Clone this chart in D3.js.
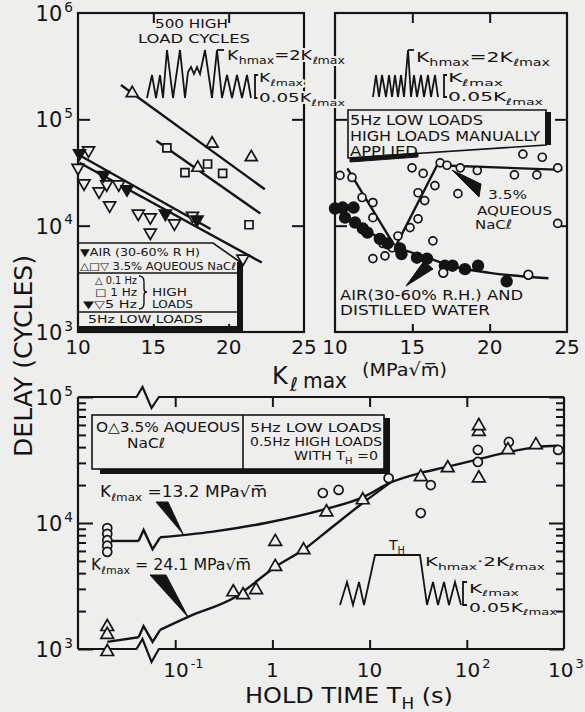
<!DOCTYPE html>
<html>
<head>
<meta charset="utf-8">
<script src="https://cdn.jsdelivr.net/npm/d3@7/dist/d3.min.js"></script>
<style>
  body { margin: 0; background: #eeeeec; }
  svg { display: block; font-family: "DejaVu Sans", Verdana, sans-serif; }
  .halo { paint-order: stroke; stroke: #eeeeec; stroke-width: 4px; stroke-linejoin: round; }
</style>
</head>
<body>
<svg id="chart" width="585" height="712"></svg>
<script>
const ink = "#141414", paper = "#eeeeec";

// ---------- top left panel: 500 high load cycles (K_lmax, delay) ----------
const tlTri01Hz = [[13.6, 1.76e5], [17.95, 3.5e4], [18.9, 5.9e4], [21.5, 4.4e4]];
const tlSq1Hz = [[15.9, 5.4e4], [17.1, 3.16e4], [18.6, 3.8e4], [19.6, 3.1e4], [21.35, 1.02e4]];
const tlAir5Hz = [[10.1, 4.8e4], [11.7, 3.0e4], [13.25, 2.2e4], [15.8, 1.3e4], [17.9, 1.14e4]];
const tlNaCl5Hz = [[10.7, 5.1e4], [10.0, 3.5e4], [10.4, 2.5e4], [11.4, 2.1e4], [11.9, 2.45e4],
  [12.7, 2.45e4], [12.1, 1.55e4], [14.0, 1.3e4], [14.8, 1.2e4], [14.8, 8.6e3], [16.4, 1.05e4],
  [17.6, 1.24e4], [20.95, 4.9e3]];
const tlFit01Hz = [[12.85, 2.1e5], [22.4, 2.2e4]];
const tlFit1Hz = [[15.2, 6.3e4], [22.1, 1.3e4]];
const tlFitAir = [[10.1, 4.6e4], [18.8, 9.3e3]];
const tlFitNaCl = [[10.1, 3.9e4], [22.2, 4.5e3]];

// ---------- top right panel: high loads manually applied ----------
const trNaCl = [[10.32, 2.97e4], [11.1, 2.84e4], [11.75, 1.84e4], [12.45, 1.65e4], [12.45, 1.19e4],
  [12.45, 4.9e3], [13.1, 6.8e3], [13.23, 5.2e3], [13.7, 6.2e3], [14.07, 8.0e3], [14.85, 9.6e3],
  [14.98, 3.5e4], [15.37, 2.04e4], [15.37, 1.16e4], [15.7, 3.1e4], [15.8, 1.72e4], [16.33, 7.2e3],
  [16.46, 2.38e4], [16.8, 3.9e4], [17.24, 3.7e4], [17.95, 2.0e4], [18.1, 3.5e4], [19.2, 3.3e4],
  [21.6, 3.0e4], [22.15, 4.7e4], [23.05, 3.0e4], [23.4, 4.4e4], [24.4, 3.5e4], [24.4, 1.05e4]];
const trAir = [[10.0, 1.45e4], [10.5, 1.48e4], [10.65, 1.19e4], [11.2, 1.48e4], [11.3, 1.07e4],
  [11.8, 9.4e3], [12.1, 8.6e3], [12.9, 7.5e3], [13.4, 6.8e3], [14.2, 6.1e3], [14.3, 5.4e3],
  [15.3, 5.0e3], [15.95, 4.9e3], [17.1, 4.2e3], [17.6, 4.2e3], [18.4, 3.9e3], [19.25, 4.2e3],
  [21.1, 3.0e3]];
const trWater = [[17.0, 3.6e3], [22.5, 3.45e3]];
const trFitNaCl = [[10.8, 3.45e4], [13.9, 6.3e3], [16.6, 3.7e4], [24.7, 3.35e4]];
const trFitAir = [[10.0, 1.45e4], [11.8, 9.5e3], [14.0, 6.3e3], [16.0, 5.0e3], [17.5, 4.2e3],
  [20.0, 3.6e3], [23.8, 3.2e3]];

// ---------- bottom panel: hold time T_H (s) vs delay ----------
const T_ZERO = 0.02;   // where T_H = 0 is plotted, left of the axis break
const botCircZero = [9.1e3, 8.2e3, 7.3e3, 6.6e3, 5.9e3];
const botTriZero = [1.5e3, 1.3e3, 9.5e2];
const botCirc = [[3.3, 1.73e4], [4.8, 1.83e4], [15.7, 2.27e4], [33.6, 1.2e4], [42.6, 2.0e4],
  [130, 3.8e4], [130, 3.05e4], [271, 4.4e4], [870, 3.8e4]];
const botTri = [[0.396, 2.83e3], [0.5, 2.68e3], [0.68, 2.94e3], [1.07, 4.5e3], [1.07, 7.1e3],
  [2.09, 6.1e3], [3.6, 1.22e4], [8.5, 1.52e4], [33.6, 2.32e4], [63.7, 2.73e4], [133, 5.3e4],
  [133, 5.9e4], [133, 2.27e4], [265, 3.8e4], [514, 4.16e4]];
const curve132a = [[0.02, 7.2e3], [0.042, 7.2e3]];
const curve132b = [[0.07, 7.7e3], [0.235, 8.5e3], [0.85, 1.0e4], [3.5, 1.29e4], [8.5, 1.6e4],
  [16.5, 2.1e4], [33.6, 2.5e4], [64, 2.8e4], [130, 3.2e4], [265, 3.65e4], [514, 4.0e4], [870, 4.1e4]];
const curve241a = [[0.02, 1.14e3], [0.042, 1.24e3]];
const curve241b = [[0.07, 1.42e3], [0.136, 1.8e3], [0.416, 2.59e3], [1.07, 4.48e3], [2.19, 6.3e3],
  [3.78, 8.8e3], [8.5, 1.44e4], [16.5, 2.1e4]];

// ticks
const kTicks = [10, 15, 20, 25];
const topDecades = [3, 4, 5, 6];
const botDecades = [3, 4, 5];
const holdLabels = [[0.1, "10", "-1"], [1, "1", ""], [10, "10", ""], [100, "10", "2"], [1000, "10", "3"]];

const svg = d3.select("#chart");
svg.append("rect").attr("width", 585).attr("height", 712).attr("fill", paper);

const yTop = d3.scaleLog().domain([1e3, 1e6]).range([332, 13]);
const xTL = d3.scaleLinear().domain([10, 25]).range([78, 304]);
const xTR = d3.scaleLinear().domain([10, 25]).range([335, 567]);
const xB = d3.scaleLog().domain([0.01, 1000]).range([78, 564]);
const yB = d3.scaleLog().domain([1e3, 1e5]).range([649, 397]);

function rich(g, x, y, parts, size, opts = {}) {
  const t = g.append("text").attr("x", x).attr("y", y).attr("font-size", size).attr("fill", ink);
  let cur = 0;
  for (const [s, k] of parts) {
    const off = k === "sub" ? 0.28 * size : k === "sup" ? -0.45 * size : 0;
    t.append("tspan").attr("dy", off - cur).attr("font-size", k === "n" ? size : 0.7 * size).text(s);
    cur = off;
  }
  if (opts.anchor) t.attr("text-anchor", opts.anchor);
  if (opts.len) t.attr("textLength", opts.len).attr("lengthAdjust", "spacingAndGlyphs");
  if (opts.halo) t.attr("class", "halo");
  return t;
}
const txt = (g, x, y, s, size, len, halo) =>
  rich(g, x, y, [[s, "n"]], size, { len: len, halo: halo });

function ticks(g, axis, tr, len) {
  g.append("g").attr("transform", tr).call(axis.tickSize(-len).tickFormat(""))
    .call(a => a.select(".domain").remove())
    .selectAll("line").attr("stroke", ink).attr("stroke-width", 2);
}

function marks(g, pts, xs, ys, shape, filled, size) {
  const type = shape === "circle" ? d3.symbolCircle : shape === "square" ? d3.symbolSquare : d3.symbolTriangle;
  g.append("g").selectAll("path").data(pts).join("path")
    .attr("transform", d => `translate(${xs(d[0])},${ys(d[1])})` + (shape === "down" ? " rotate(180)" : ""))
    .attr("d", d3.symbol().type(type).size(size))
    .attr("fill", filled ? ink : paper).attr("stroke", ink).attr("stroke-width", 1.7);
}

function curve(g, pts, xs, ys, c) {
  const line = d3.line().x(d => xs(d[0])).y(d => ys(d[1])).curve(c || d3.curveLinear);
  g.append("path").attr("d", line(pts)).attr("fill", "none").attr("stroke", ink).attr("stroke-width", 2.4);
}

function poly(g, pts, fill, sw) {
  g.append("path").attr("d", "M" + pts.map(p => p.join(",")).join("L") + (fill ? "Z" : ""))
    .attr("fill", fill || "none").attr("stroke", ink).attr("stroke-width", sw || 2)
    .attr("stroke-linejoin", "miter");
}

// schematic load wave, local points relative to an origin
function wave(g, x0, y0, pts) {
  poly(g, pts.map(p => [x0 + p[0], y0 + p[1]]), null, 1.8);
}

function pow10(g, x, y, exp, size, anchor) {
  const t = rich(g, x, y, [["10", "n"], [exp, "sup"]], size);
  t.select("tspan:last-child").attr("font-size", size * 0.65).attr("dx", 2);
  if (anchor) t.attr("text-anchor", anchor);
  return t;
}

// ===================== top panels =====================
const upper = svg.append("g");

// legend box, top left (drawn under the data)
poly(upper, [[78, 243], [213, 243], [240, 262], [240, 328], [78, 328]], paper, 1.6);
upper.append("rect").attr("x", 237).attr("y", 262).attr("width", 6).attr("height", 70).attr("fill", ink);
upper.append("rect").attr("x", 78).attr("y", 326).attr("width", 165).attr("height", 6).attr("fill", ink);
poly(upper, [[78, 273], [240, 273]], null, 1.4);
poly(upper, [[78, 312], [240, 312]], null, 1.4);

// box, top right
poly(upper, [[348, 110], [546, 110], [546, 145], [348, 158], [348, 110]], paper, 1.6);
upper.append("rect").attr("x", 545).attr("y", 112).attr("width", 6).attr("height", 33).attr("fill", ink);
poly(upper, [[350, 158], [418, 153], [418, 157], [350, 162]], ink, 1);

// frames and ticks
[xTL, xTR].forEach(xs => {
  const [a, b] = xs.range();
  upper.append("rect").attr("x", a).attr("y", 13).attr("width", b - a).attr("height", 319)
    .attr("fill", "none").attr("stroke", ink).attr("stroke-width", 2.2);
  ticks(upper, d3.axisLeft(yTop).tickValues([1e4, 1e5]), `translate(${a},0)`, 12);
  ticks(upper, d3.axisRight(yTop).tickValues([1e4, 1e5]), `translate(${b},0)`, 12);
  ticks(upper, d3.axisTop(xs).tickValues([15, 20]), "translate(0,13)", 10);
  ticks(upper, d3.axisBottom(xs).tickValues([15, 20]), "translate(0,332)", 8);
  kTicks.forEach(k => txt(upper, xs(k), 354, String(k), 20).attr("text-anchor", "middle"));
});
topDecades.forEach(e => pow10(upper, 73, yTop(Math.pow(10, e)) + 8, String(e), 21, "end"));

// fits and data, top left
[tlFit01Hz, tlFit1Hz, tlFitAir, tlFitNaCl].forEach(f => curve(upper, f, xTL, yTop));
marks(upper, tlTri01Hz, xTL, yTop, "up", false, 62);
marks(upper, tlSq1Hz, xTL, yTop, "square", false, 64);
marks(upper, tlNaCl5Hz, xTL, yTop, "down", false, 62);
marks(upper, tlAir5Hz, xTL, yTop, "down", true, 62);

// fits and data, top right
curve(upper, trFitNaCl, xTR, yTop);
curve(upper, trFitAir, xTR, yTop, d3.curveMonotoneX);
marks(upper, trNaCl, xTR, yTop, "circle", false, 50);
marks(upper, trAir, xTR, yTop, "circle", true, 90);
marks(upper, trWater, xTR, yTop, "circle", false, 60);

// load spectrum sketches
wave(upper, 147, 98, [[0, 0], [5, -23], [9, 0], [13, -23], [16, 0], [20, -48], [26, 0], [33, -48], [38, 0],
  [41, -26], [44, -31], [47, -24], [50, -31], [53, -24], [58, -48], [65, 0], [70, -48], [75, 0],
  [80, -23], [85, 0], [90, -23], [95, 0], [100, -23], [104, 0]]);
wave(upper, 217, 50, [[0, 0], [7, 0]]);
wave(upper, 255, 75, [[4, 0], [0, 0], [0, 23], [4, 23]]);
wave(upper, 373, 97, [[0, 0], [3, -22], [6, 0], [9, -22], [13, 0], [16, -22], [19, 0], [22, -22], [25, 0],
  [28, -22], [31, 0], [35, -47], [38, 0], [41, -22], [44, 0], [48, -22], [51, 0], [55, -22], [58, 0],
  [62, -22], [65, 0]]);
wave(upper, 408, 50, [[0, 0], [6, 0]]);
wave(upper, 444, 75, [[3, 0], [0, 0], [0, 22], [3, 22]]);

const kh = [["K", "n"], ["hmax", "sub"], ["=2K", "n"], ["ℓmax", "sub"]];
const kl = [["K", "n"], ["ℓmax", "sub"]];
const k05 = [["0.05K", "n"], ["ℓmax", "sub"]];
txt(upper, 155, 28, "500 HIGH", 13, 73);
txt(upper, 138, 43, "LOAD CYCLES", 13, 112);
rich(upper, 227, 60, kh, 14, { len: 118, halo: true });
rich(upper, 259, 82, kl, 13, { len: 44, halo: true });
rich(upper, 259, 102, k05, 13, { len: 86, halo: true });
rich(upper, 416, 62, kh, 14, { len: 134 });
rich(upper, 448, 82, kl, 13, { len: 55 });
rich(upper, 448, 101, k05, 13, { len: 95 });

// legend text, top left
txt(upper, 80, 256, "▼AIR (30-60% R H)", 10.5, 120);
txt(upper, 80, 270, "△□▽ 3.5% AQUEOUS NaCℓ", 10.5, 156);
txt(upper, 95, 284, "△ 0.1 Hz", 10, 42);
txt(upper, 95, 296, "□  1  Hz", 10, 42);
txt(upper, 83, 308, "▼▽5  Hz", 10, 54);
upper.append("path").attr("d", "M139,276 Q144,276 144,282 L144,289 Q144,292 147,292 Q144,292 144,295 L144,303 Q144,309 139,309")
  .attr("fill", "none").attr("stroke", ink).attr("stroke-width", 1.4);
txt(upper, 152, 296, "HIGH", 10.5, 35);
txt(upper, 152, 308, "LOADS", 10.5, 41);
txt(upper, 88, 323, "5Hz LOW LOADS", 10.5, 115);

// box text and callouts, top right
txt(upper, 350, 125, "5Hz LOW LOADS", 14, 133);
txt(upper, 350, 141, "HIGH LOADS MANUALLY", 14, 190);
txt(upper, 350, 156, "APPLIED", 14, 68);
poly(upper, [[452, 170], [481, 184], [479, 197]], ink, 1);
txt(upper, 488, 199, "3.5%", 12, 39);
txt(upper, 477, 215, "AQUEOUS", 13, 75);
txt(upper, 475, 229, "NaCℓ", 13, 37);
poly(upper, [[406, 286], [424, 261], [433, 269]], ink, 1);
txt(upper, 340, 300, "AIR(30-60% R.H.) AND", 14, 183);
txt(upper, 340, 315, "DISTILLED WATER", 14, 150);

// x label of the top panels
txt(upper, 272, 384, "K", 24);
txt(upper, 290, 391, "ℓ", 19);
txt(upper, 303, 388, "max", 22, 44);
txt(upper, 362, 376, "(MPa√m\u0305)", 18, 85);

// ===================== bottom panel =====================
const lower = svg.append("g");

// legend box
lower.append("rect").attr("x", 100).attr("y", 467).attr("width", 290).attr("height", 7).attr("fill", ink);
lower.append("rect").attr("x", 383).attr("y", 418).attr("width", 7).attr("height", 56).attr("fill", ink);
lower.append("rect").attr("x", 92).attr("y", 415).attr("width", 292).attr("height", 54)
  .attr("fill", paper).attr("stroke", ink).attr("stroke-width", 1.6);
poly(lower, [[243, 415], [243, 469]], null, 1.6);
txt(lower, 96, 432, "O△3.5% AQUEOUS", 14, 144);
txt(lower, 127, 448, "NaCℓ", 14, 38);
txt(lower, 250, 432, "5Hz LOW LOADS", 13, 132);
txt(lower, 250, 446, "0.5Hz HIGH LOADS", 13, 132);
rich(lower, 294, 460, [["WITH T", "n"], ["H", "sub"], [" =0", "n"]], 13, { len: 84 });

// frame with broken time axis
const b0 = xB(0.04), b1 = xB(0.068);
poly(lower, [[78, 397], [78, 649]], null, 2.2);
poly(lower, [[564, 397], [564, 649]], null, 2.2);
poly(lower, [[78, 397], [b0, 397], [b0 + 6, 387], [b0 + 15, 408], [b1, 397], [564, 397]], null, 2.2);
poly(lower, [[78, 649], [b0, 649], [b0 + 6, 639], [b0 + 15, 662], [b1, 649], [564, 649]], null, 2.2);

const minor = yB.ticks().filter(v => Math.abs(Math.log10(v) % 1) > 1e-6);
const major = botDecades.map(e => Math.pow(10, e));
ticks(lower, d3.axisLeft(yB).tickValues(minor), "translate(78,0)", 8);
ticks(lower, d3.axisLeft(yB).tickValues(major), "translate(78,0)", 15);
ticks(lower, d3.axisRight(yB).tickValues(minor), "translate(564,0)", 8);
ticks(lower, d3.axisRight(yB).tickValues(major), "translate(564,0)", 15);
ticks(lower, d3.axisTop(xB).tickValues([0.1, 1, 10, 100]), "translate(0,397)", 10);
ticks(lower, d3.axisBottom(xB).tickValues([0.1, 1, 10, 100]), "translate(0,649)", 9);

botDecades.forEach(e => pow10(lower, 73, yB(Math.pow(10, e)) + 8, String(e), 21, "end"));
holdLabels.forEach(([v, base, e]) => {
  if (e) pow10(lower, Math.min(xB(v) - 12, 548), 677, e, 20);
  else txt(lower, xB(v), 677, base, 20).attr("text-anchor", "middle");
});

// curves with the break between T_H = 0 and the log axis
[[curve132a, curve132b], [curve241a, curve241b]].forEach(([a, b]) => {
  curve(lower, a, xB, yB);
  curve(lower, b, xB, yB, d3.curveMonotoneX);
  const xa = xB(a[a.length - 1][0]), ya = yB(a[a.length - 1][1]);
  const xb = xB(b[0][0]), yb = yB(b[0][1]);
  poly(lower, [[xa, ya], [xa + 5, ya - 11], [xa + 14, yb + 12], [xb, yb]], null, 2.4);
});

marks(lower, botCircZero.map(v => [T_ZERO, v]), xB, yB, "circle", false, 64);
marks(lower, botTriZero.map(v => [T_ZERO, v]), xB, yB, "up", false, 70);
marks(lower, botCirc, xB, yB, "circle", false, 64);
marks(lower, botTri, xB, yB, "up", false, 70);

// callouts
poly(lower, [[156, 502], [168, 502], [183, 534]], ink, 1);
rich(lower, 100, 497, [["K", "n"], ["ℓmax", "sub"], [" =13.2 MPa√m\u0305", "n"]], 15, { len: 167, halo: true });
poly(lower, [[150, 575], [166, 575], [188, 617]], ink, 1);
rich(lower, 91, 570, [["K", "n"], ["ℓmax", "sub"], [" = 24.1 MPa√m\u0305", "n"]], 15, { len: 160, halo: true });

// hold-time load sketch
wave(lower, 340, 605, [[0, 0], [7, -23], [13, 0], [19, -23], [24, 0], [35, -50], [80, -50], [87, 0],
  [93, -23], [98, 0], [104, -23], [109, 0], [115, -23], [121, 0]]);
wave(lower, 463, 582, [[4, 0], [0, 0], [0, 23], [4, 23]]);
rich(lower, 397, 550, [["T", "n"], ["H", "sub"]], 14, { anchor: "middle" });
rich(lower, 425, 566, [["K", "n"], ["hmax", "sub"], ["·2K", "n"], ["ℓmax", "sub"]], 13, { len: 120 });
rich(lower, 469, 593, kl, 12, { len: 50 });
rich(lower, 469, 612, k05, 12, { len: 88 });

// axis titles
rich(lower, 245, 703, [["HOLD TIME T", "n"], ["H", "sub"], [" (s)", "n"]], 22, { len: 208 });
svg.append("text").attr("transform", "translate(32,356) rotate(-90)").attr("text-anchor", "middle")
  .attr("font-size", 25).attr("fill", ink).attr("textLength", 202).attr("lengthAdjust", "spacingAndGlyphs")
  .text("DELAY (CYCLES)");
</script>
</body>
</html>
